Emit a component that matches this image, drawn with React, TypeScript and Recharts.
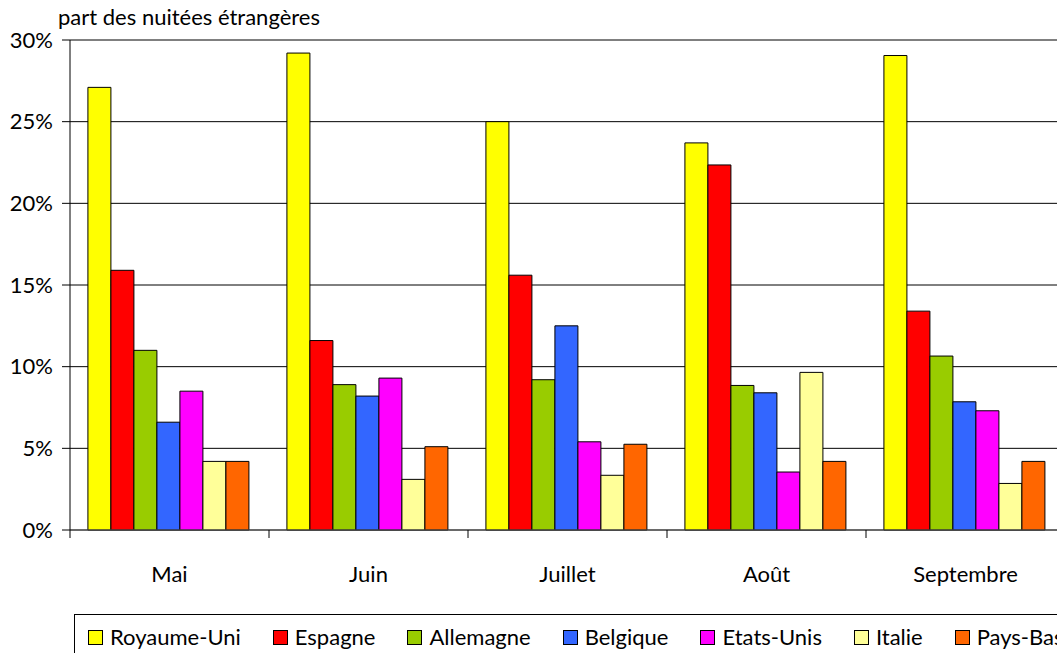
import { BarChart, Bar, XAxis, YAxis, CartesianGrid, Legend } from 'recharts';

const months = ['Mai', 'Juin', 'Juillet', 'Août', 'Septembre'];
const countries = ['Royaume-Uni', 'Espagne', 'Allemagne', 'Belgique', 'Etats-Unis', 'Italie', 'Pays-Bas'];
const colors = ['#FFFF00', '#FF0000', '#99CC00', '#3366FF', '#FF00FF', '#FFFF99', '#FF6600'];

// part des nuitées étrangères, en %, par mois
const royaumeUni = [27.1, 29.2, 25.0, 23.7, 29.05];
const espagne = [15.9, 11.6, 15.6, 22.35, 13.4];
const allemagne = [11.0, 8.9, 9.2, 8.85, 10.65];
const belgique = [6.6, 8.2, 12.5, 8.4, 7.85];
const etatsUnis = [8.5, 9.3, 5.4, 3.55, 7.3];
const italie = [4.2, 3.1, 3.35, 9.65, 2.85];
const paysBas = [4.2, 5.1, 5.25, 4.2, 4.2];

const yTicks = [0, 5, 10, 15, 20, 25, 30];

const series = [royaumeUni, espagne, allemagne, belgique, etatsUnis, italie, paysBas];

const data = months.map((m, i) => {
  const row: Record<string, string | number> = { month: m };
  countries.forEach((c, k) => {
    row[c] = series[k][i];
  });
  return row;
});

const FONT = 'Lato, "DejaVu Sans", sans-serif';

// label at the category centre, tick marks on the category boundaries
const MonthTick = (props: any) => {
  const { x, y, payload, index } = props;
  const half = payload && payload.offset ? payload.offset : 99.5;
  return (
    <g>
      <line x1={x - half} x2={x - half} y1={y} y2={y + 8} stroke="#000" strokeWidth={1} />
      {index === months.length - 1 && (
        <line x1={x + half} x2={x + half} y1={y} y2={y + 8} stroke="#000" strokeWidth={1} />
      )}
      <text x={x} y={y + 43} textAnchor="middle" dominantBaseline="central" fontSize={22} fill="#000" fontFamily={FONT}>
        {payload.value}
      </text>
    </g>
  );
};

const LegendBox = () => (
  <div
    style={{
      border: '1px solid #000',
      width: 1010,
      height: 50,
      boxSizing: 'border-box',
      display: 'flex',
      alignItems: 'flex-start',
      paddingLeft: 13,
      paddingTop: 9,
      fontFamily: FONT,
      fontSize: 22,
      color: '#000',
      whiteSpace: 'nowrap',
    }}
  >
    {countries.map((c, i) => (
      <div key={c} style={{ display: 'flex', alignItems: 'center', marginRight: 32 }}>
        <span
          style={{
            display: 'inline-block',
            width: 13,
            height: 13,
            background: colors[i],
            border: '1px solid #000',
            marginRight: 7,
          }}
        />
        <span style={{ lineHeight: '26px' }}>{c}</span>
      </div>
    ))}
  </div>
);

export default function App() {
  return (
    <div style={{ position: 'absolute', left: 0, top: 0, width: 1057, height: 653, overflow: 'hidden', background: '#fff', fontFamily: FONT }}>
      <div style={{ position: 'absolute', left: 58, top: 4, fontSize: 22, lineHeight: '26px', color: '#000', whiteSpace: 'nowrap' }}>
        part des nuitées étrangères
      </div>
      <BarChart
        width={1100}
        height={653}
        data={data}
        margin={{ top: 40, right: 35, bottom: 83, left: 0 }}
        barCategoryGap="9%"
        barGap={0}
        style={{ fontFamily: FONT }}
      >
        <CartesianGrid vertical={false} stroke="#000" strokeWidth={1} />
        <XAxis
          dataKey="month"
          interval={0}
          tickLine={false}
          tickSize={0}
          tickMargin={0}
          axisLine={{ stroke: '#555' }}
          tick={<MonthTick />}
          height={40}
        />
        <YAxis
          width={70}
          domain={[0, 30]}
          ticks={yTicks}
          interval={0}
          tickFormatter={(v: number) => `${v}%`}
          tick={{ fill: '#000', fontSize: 22, fontFamily: FONT }}
          tickSize={8}
          tickMargin={9}
          axisLine={{ stroke: '#000' }}
          tickLine={{ stroke: '#000' }}
        />
        <Legend
          layout="horizontal"
          verticalAlign="middle"
          align="center"
          wrapperStyle={{ left: 74, top: 614, width: 1010 }}
          content={() => <LegendBox />}
        />
        {countries.map((c, i) => (
          <Bar key={c} dataKey={c} fill={colors[i]} stroke="#000" strokeWidth={1} isAnimationActive={false} />
        ))}
      </BarChart>
    </div>
  );
}
